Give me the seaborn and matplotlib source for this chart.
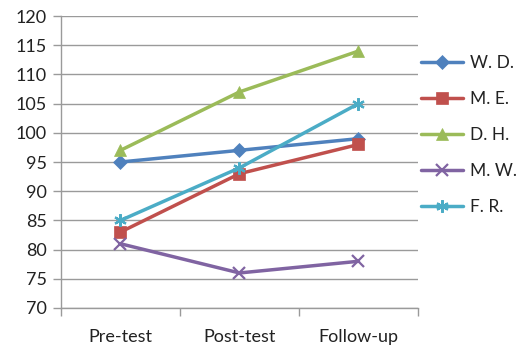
import numpy as np
import pandas as pd
import matplotlib
matplotlib.use("Agg")
import matplotlib.pyplot as plt
import seaborn as sns

phases = ["Pre-test", "Post-test", "Follow-up"]
participants = ["W. D.", "M. E.", "D. H.", "M. W.", "F. R."]
wd = [95, 97, 99]
me = [83, 93, 98]
dh = [97, 107, 114]
mw = [81, 76, 78]
fr = [85, 94, 105]
y_ticks = [70, 75, 80, 85, 90, 95, 100, 105, 110, 115, 120]

colors = ["#4F81BD", "#C0504D", "#9BBB59", "#8064A2", "#4BACC6"]
markers = ["D", "s", "^", "x", (6, 2, 0)]
sizes = [7, 8, 8.5, 8, 9]

rows = []
for name, vals in zip(participants, [wd, me, dh, mw, fr]):
    for i, v in enumerate(vals):
        rows.append({"phase": i, "participant": name, "score": v})
df = pd.DataFrame(rows)

sns.set_theme(style="white")
plt.rcParams["font.family"] = ["Lato", "DejaVu Sans"]

fig = plt.figure(figsize=(5.18, 3.47), dpi=100)
ax = fig.add_axes([61 / 518, 1 - 308 / 347, 357 / 518, 292 / 347])

for name, c, m, s in zip(participants, colors, markers, sizes):
    sub = df[df["participant"] == name]
    sns.lineplot(data=sub, x="phase", y="score", ax=ax, color=c, marker=m,
                 markersize=s, markeredgewidth=1.6 if m in ("x", (6, 2, 0)) else 0.5,
                 markeredgecolor=c, linewidth=2.5, label=name, legend=False)

ax.set_xlim(-0.5, 2.5)
ax.set_ylim(70, 120)
ax.set_yticks(y_ticks)
ax.set_xticks(range(len(phases)))
ax.set_xticklabels(phases)
ax.set_xticks([-0.5, 0.5, 1.5, 2.5], minor=True)
ax.set_xlabel("")
ax.set_ylabel("")

ax.grid(axis="y", color="#9a9a9a", linewidth=1.0)
ax.grid(axis="x", visible=False)
for side in ("top", "right"):
    ax.spines[side].set_visible(False)
for side in ("left", "bottom"):
    ax.spines[side].set_color("#9a9a9a")
    ax.spines[side].set_linewidth(1.0)

ax.tick_params(axis="y", which="major", left=True, length=6, width=1.0,
               color="#9a9a9a", labelsize=13, pad=4, labelcolor="#222222")
ax.tick_params(axis="x", which="major", bottom=False, length=0, labelsize=13,
               pad=15, labelcolor="#222222")
ax.tick_params(axis="x", which="minor", bottom=True, length=6, width=1.0,
               color="#9a9a9a")

handles, labels = ax.get_legend_handles_labels()
fig.legend(handles, labels, loc="center left",
           bbox_to_anchor=(421 / 518, 1 - 135 / 347), frameon=False,
           fontsize=12.5, handlelength=2.4, handletextpad=0.4,
           labelspacing=1.15, borderpad=0, borderaxespad=0,
           labelcolor="#222222")

fig.savefig("out.png", dpi=100)
